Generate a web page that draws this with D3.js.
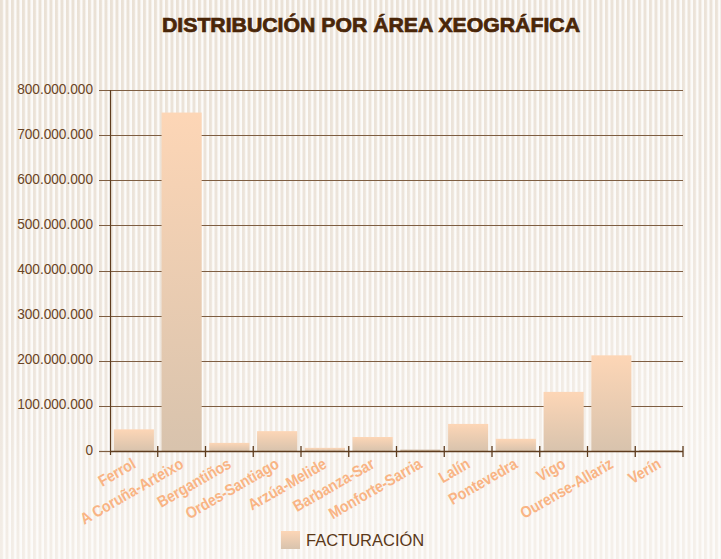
<!DOCTYPE html>
<html><head><meta charset="utf-8">
<script src="https://cdn.jsdelivr.net/npm/d3@7"></script>
<style>html,body{margin:0;padding:0;background:#fff;}svg{display:block;}</style>
</head><body>
<svg id="chart" width="721" height="559"></svg>
<script>
const categories = ["Ferrol","A Coruña-Arteixo","Bergantiños","Ordes-Santiago","Arzúa-Melide","Barbanza-Sar","Monforte-Sarria","Lalín","Pontevedra","Vigo","Ourense-Allariz","Verín"];
const facturacion = [48000000, 750000000, 18000000, 44000000, 7000000, 31000000, 3000000, 60000000, 27000000, 131000000, 212000000, 2000000];
const yTicks = [0,100000000,200000000,300000000,400000000,500000000,600000000,700000000,800000000];
const title = "DISTRIBUCIÓN POR ÁREA XEOGRÁFICA";
const seriesName = "FACTURACIÓN";

const W = 721, H = 559;
const svg = d3.select("#chart");
const defs = svg.append("defs");

// background
const bg = defs.append("linearGradient").attr("id","bgGrad").attr("x1","0").attr("y1","0").attr("x2","0.3").attr("y2","1");
bg.append("stop").attr("offset","0").attr("stop-color","#eae1d5");
bg.append("stop").attr("offset","0.6").attr("stop-color","#ede5dc");
bg.append("stop").attr("offset","1").attr("stop-color","#f5f0ea");
const pat = defs.append("pattern").attr("id","stripes").attr("patternUnits","userSpaceOnUse").attr("width",5.5).attr("height",10);
pat.append("rect").attr("x",3).attr("y",0).attr("width",2.5).attr("height",10).attr("fill","#fdfcfa").attr("opacity",0.95);

const barGrad = defs.append("linearGradient").attr("id","barGrad").attr("x1","0").attr("y1","0").attr("x2","0").attr("y2","1");
barGrad.append("stop").attr("offset","0").attr("stop-color","#fdd6b6");
barGrad.append("stop").attr("offset","1").attr("stop-color","#d8c3ad");

svg.append("rect").attr("width",W).attr("height",H).attr("fill","url(#bgGrad)");
svg.append("rect").attr("width",W).attr("height",H).attr("fill","url(#stripes)");

// scales
const x = d3.scaleBand().domain(categories).range([110,683]).paddingInner(0.16).paddingOuter(0.08);
const y = d3.scaleLinear().domain([0,800000000]).range([451,90]);
const loc = d3.formatLocale({decimal:",",thousands:".",grouping:[3],currency:["","€"]});
const fmt = loc.format(",d");

// gridlines
const gridC = "#7e5e42";
svg.append("g").selectAll("line").data(yTicks.slice(1)).join("line")
  .attr("x1",99).attr("x2",683).attr("y1",d=>Math.round(y(d))+0.5).attr("y2",d=>Math.round(y(d))+0.5)
  .attr("stroke",gridC).attr("stroke-width",1.2);
svg.append("line").attr("x1",99).attr("x2",110).attr("y1",451.5).attr("y2",451.5).attr("stroke",gridC).attr("stroke-width",1.2);

// y labels
svg.append("g").selectAll("text").data(yTicks).join("text")
  .attr("transform",d=>`translate(93,${y(d)+3.5}) scale(0.91,1)`)
  .attr("text-anchor","end")
  .attr("font-family","Liberation Sans, Arial, sans-serif").attr("font-size",15)
  .attr("fill","#6a4424").text(d=>fmt(d));

// bars
svg.append("g").selectAll("rect").data(categories).join("rect")
  .attr("x",d=>x(d)).attr("width",x.bandwidth())
  .attr("y",(d,i)=>y(facturacion[i]))
  .attr("height",(d,i)=>Math.max(1.5, y(0)-y(facturacion[i])))
  .attr("fill",(d,i)=> facturacion[i] < 5000000 ? "#cdb79f" : "url(#barGrad)");

// axes
const axC = "#5e3c1e";
svg.append("line").attr("x1",110.5).attr("x2",110.5).attr("y1",90).attr("y2",455).attr("stroke",axC).attr("stroke-width",1.2);
svg.append("line").attr("x1",110).attr("x2",683).attr("y1",451.5).attr("y2",451.5).attr("stroke",axC).attr("stroke-width",1.4);
const bounds = categories.map(c => x(c) - x.step()*x.paddingInner()/2).concat([683]);
svg.append("g").selectAll("line").data(bounds.slice(1)).join("line")
  .attr("x1",d=>d).attr("x2",d=>d).attr("y1",446).attr("y2",457)
  .attr("stroke",axC).attr("stroke-width",1.3);

// x labels
svg.append("g").selectAll("text").data(categories).join("text")
  .attr("transform",d=>`translate(${x(d)+x.bandwidth()/2+3},467) rotate(-30) scale(0.88,1)`)
  .attr("text-anchor","end")
  .attr("font-family","Liberation Sans, Arial, sans-serif").attr("font-weight","bold").attr("font-size",16)
  .attr("fill","#f9b484").text(d=>d);

// title
svg.append("text").attr("x",371).attr("y",32).attr("text-anchor","middle")
  .attr("font-family","Liberation Sans, Arial, sans-serif").attr("font-weight","bold").attr("font-size",20)
  .attr("textLength",418).attr("lengthAdjust","spacingAndGlyphs")
  .attr("fill","#4a2608").attr("stroke","#4a2608").attr("stroke-width",0.7).text(title);

// legend
svg.append("rect").attr("x",281).attr("y",531).attr("width",19).attr("height",18).attr("fill","url(#barGrad)");
svg.append("text").attr("x",306).attr("y",546)
  .attr("font-family","Liberation Sans, Arial, sans-serif").attr("font-size",16.5)
  .attr("fill","#5a3818").text(seriesName);
</script>
</body></html>
